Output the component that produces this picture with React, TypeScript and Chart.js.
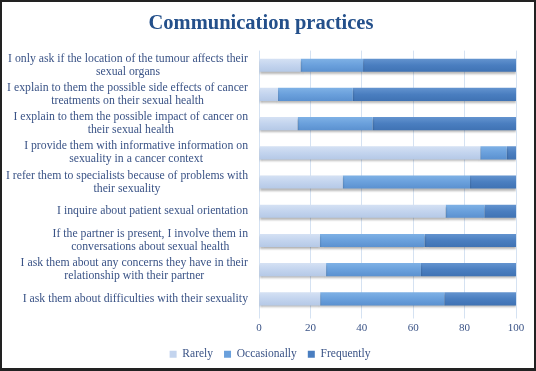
import React, { useEffect, useRef } from "react";
import { Chart, registerables } from "chart.js";

Chart.register(...registerables);

const categories: string[][] = [
  ["I only ask if the location of the tumour affects their", "sexual organs"],
  ["I explain to them the possible side effects of cancer", "treatments on their sexual health"],
  ["I explain to them the possible impact of cancer on", "their sexual health"],
  ["I provide them with informative information on", "sexuality in a cancer context"],
  ["I refer them to specialists because of problems with", "their sexuality"],
  ["I inquire about patient sexual orientation"],
  ["If the partner is present, I involve them in", "conversations about sexual health"],
  ["I ask them about any concerns they have in their", "relationship with their partner"],
  ["I ask them about difficulties with their sexuality"],
];

const rarely = [16.2, 7.4, 15.0, 86.1, 32.6, 72.6, 23.7, 26.1, 23.8];
const occasionally = [24.3, 29.1, 29.2, 10.3, 49.5, 15.1, 40.7, 36.9, 48.3];
const frequently = [59.5, 63.5, 55.8, 3.6, 17.9, 12.3, 35.6, 37.0, 27.9];

const seriesNames = ["Rarely", "Occasionally", "Frequently"];
const xTicks = [0, 20, 40, 60, 80, 100];

const TEXT_COLOR = "#3a5386";
const FONT_FAMILY = "'Liberation Serif', 'DejaVu Serif', serif";
const LABEL_SIZE = 11.75;
const LABEL_LINE = 13;

const solid = ["#c3d4ee", "#6aa0dc", "#4a7ec0"];
const gradTops = ["#d6e2f4", "#80b2e6", "#6595d0"];
const gradBottoms = ["#b4c8e6", "#5a90cf", "#3f72b3"];

function gradient(i: number) {
  return (ctx: any) => {
    const chart = ctx.chart;
    const ys = chart.scales && chart.scales.y;
    if (!ys || ctx.type !== "data") return solid[i];
    const yc = ys.getPixelForValue(ctx.dataIndex);
    if (!isFinite(yc)) return solid[i];
    const g = chart.ctx.createLinearGradient(0, yc - 7, 0, yc + 7);
    g.addColorStop(0, gradTops[i]);
    g.addColorStop(0.5, solid[i]);
    g.addColorStop(1, gradBottoms[i]);
    return g;
  };
}

const shadowPlugin = {
  id: "barShadow",
  beforeDatasetsDraw(chart: any) {
    const c = chart.ctx;
    c.save();
    c.shadowColor = "rgba(0,0,0,0.28)";
    c.shadowOffsetY = 2;
    c.shadowOffsetX = 0;
    c.shadowBlur = 2;
  },
  afterDatasetsDraw(chart: any) {
    chart.ctx.restore();
  },
};

const shiftPlugin = {
  id: "shiftBlocks",
  afterLayout(chart: any) {
    if (chart.legend) {
      chart.legend.left += 24;
    }
    if (chart.titleBlock) {
      chart.titleBlock.left += 6;
    }
  },
};

const yLabelPlugin = {
  id: "yLabels",
  afterDraw(chart: any) {
    const ys = chart.scales.y;
    const c = chart.ctx;
    const right = chart.chartArea.left - 11;
    c.save();
    c.font = `${LABEL_SIZE}px ${FONT_FAMILY}`;
    c.fillStyle = TEXT_COLOR;
    c.textAlign = "center";
    c.textBaseline = "middle";
    categories.forEach((lines, i) => {
      const yc = ys.getPixelForValue(i);
      const maxW = Math.max(...lines.map((l) => c.measureText(l).width));
      const cx = right - maxW / 2;
      lines.forEach((l, j) => {
        c.fillText(l, cx, yc + (j - (lines.length - 1) / 2) * LABEL_LINE);
      });
    });
    c.restore();
  },
};

export default function App() {
  const ref = useRef<HTMLCanvasElement | null>(null);
  useEffect(() => {
    if (!ref.current) return;
    const chart = new Chart(ref.current, {
      type: "bar",
      data: {
        labels: categories.map((l) => l.join(" ")),
        datasets: [
          { label: seriesNames[0], data: rarely, backgroundColor: gradient(0) as any },
          { label: seriesNames[1], data: occasionally, backgroundColor: gradient(1) as any },
          { label: seriesNames[2], data: frequently, backgroundColor: gradient(2) as any },
        ],
      },
      options: {
        indexAxis: "y",
        responsive: false,
        animation: false,
        devicePixelRatio: 1,
        layout: { padding: { left: 0, right: 20, top: 0, bottom: 1 } },
        datasets: { bar: { categoryPercentage: 1, barPercentage: 0.45 } },
        scales: {
          x: {
            stacked: true,
            min: 0,
            max: 100,
            afterBuildTicks: (s: any) => {
              s.ticks = xTicks.map((v) => ({ value: v }));
            },
            afterFit: (s: any) => {
              s.height = 24;
            },
            grid: { color: "#d5e2f2", tickLength: 5, drawTicks: true },
            border: { display: false },
            ticks: {
              color: TEXT_COLOR,
              font: { family: FONT_FAMILY, size: 11 },
              padding: 3,
            },
          },
          y: {
            stacked: true,
            afterFit: (s: any) => {
              s.width = 259;
            },
            grid: { display: false },
            border: { display: false },
            ticks: { display: false },
          },
        },
        plugins: {
          title: {
            display: true,
            text: "Communication practices",
            color: "#24508b",
            font: { family: FONT_FAMILY, size: 20.5, weight: "bold" },
            padding: { top: 11, bottom: 15 },
          },
          legend: {
            position: "bottom",
            labels: {
              boxWidth: 7,
              boxHeight: 7,
              padding: 11,
              color: TEXT_COLOR,
              font: { family: FONT_FAMILY, size: 11.5 },
              generateLabels: (ch: any) =>
                ch.data.datasets.map((ds: any, i: number) => ({
                  text: ds.label,
                  fillStyle: solid[i],
                  strokeStyle: solid[i],
                  lineWidth: 0,
                  hidden: false,
                  datasetIndex: i,
                  fontColor: TEXT_COLOR,
                })),
            },
          },
          tooltip: { enabled: false },
        },
      },
      plugins: [shadowPlugin, shiftPlugin, yLabelPlugin],
    });
    return () => chart.destroy();
  }, []);

  return (
    <div style={{ position: "fixed", left: 0, top: 0, width: 536, height: 371, background: "#fff" }}>
      <canvas ref={ref} width={536} height={371} style={{ display: "block" }} />
      <div
        style={{
          position: "absolute",
          inset: 0,
          borderStyle: "solid",
          borderColor: "#222",
          borderWidth: "2px 2px 3px 2px",
          pointerEvents: "none",
        }}
      />
    </div>
  );
}
